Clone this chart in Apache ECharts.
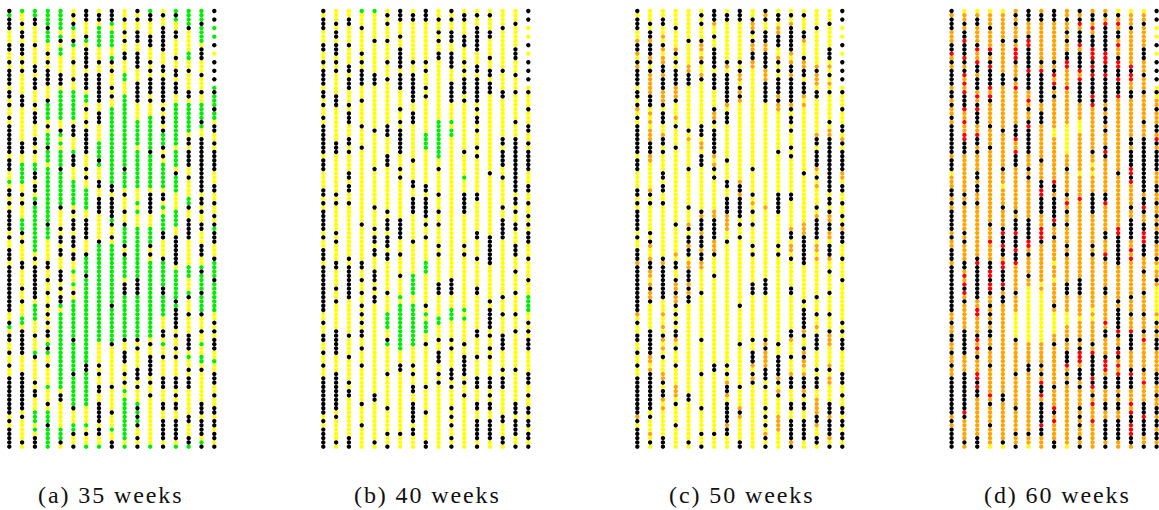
<!DOCTYPE html>
<html><head><meta charset="utf-8">
<style>html,body{margin:0;padding:0;background:#fff}#c{width:1159px;height:510px}svg text{letter-spacing:1.9px}</style>
<script src="https://cdn.jsdelivr.net/npm/echarts@6/dist/echarts.min.js"></script>
</head><body><div id="c"></div>
<script>
const captions = ["(a) 35 weeks","(b) 40 weeks","(c) 50 weeks","(d) 60 weeks"];
const ROWS = 103, COLS = 17;
// Rows with no reading (last column, upper part)
const noReading = {16:"1,3,5,7,9,11,13,15,17"};
// Rows that are black in every panel, per column
const blackRows = [
"0,2,3,4,8,9,12,14-17,19,20,22,25,27-33,35,36,37,42,43,45,47-51,53,56,57,58,60-70,73,76,77,80,83,86-94,96,98-102",
"3,5,6,8,9,10,12,14,20,21,22,31,32,33,43,45,52,54,59,60,65,68,75-80,85-93,95,101",
"2,3,8,13,14,16,17,18,22,24,25,26,30,31,33,38,39,41,42,45,58,60-67,76,81,87,89,90,100,101,102",
"4,10,12,14,15,16,17,21,27,32,50,59,60,63,66,69,71,73,75,76,79,83,92,97",
"7,15,16,17,28,37,46,51,53,54,56,57,61,62,63,65,67,68,90,91,101",
"1,3,7,12,16,27,28,29,34,35,36,47,49,50,51,53,54,55,57,58,66,77,85,93,99,102",
"0,1,2,6,9-13,15-18,23,26,28-33,37,39,49-53,57,62,83,84,99",
"1,2,12,15-21,24,25,26,35,40,41,44-47,54,83,85,88,89,92-96,98,99",
"0,1,2,12,14,18,20,41,42,44-48,50,53,69,78,88,94,101,102",
"2,5,7,10,11,37,43,47,50,55,57,64,65,66,77,80,81,82,85,87",
"0,2,5,6,7,10-13,17-21,63-66,77,79,84,85,86,88,93,95,97,100,102",
"1,2,6,7,8,12,14,16-19,21,33,43-47,55,57,78,81-85,87,90",
"1,4-9,13,14,16-21,23,25,26,28,32,34,43,44,52,53,58,65,66,75,76,81,86,87,88,92,93,96-100,102",
"1,5,6,11,14,15,17,18,19,38,53-59,68,70-74,76,79,81,86,87,88,90,92,93,96-100",
"4,14,19,20,30,31,33-36,39,46,49-53,67,71,76-79,84,86,87,88,95,96,100,101",
"3,9,10,11,15,19,26,30-42,44,45,47,50,51,55,56,57,61,66,71,75,84,92,93,94,96-99,102",
"0,2,8,12,14,16,19,23,27,28,31,33-37,41,42,45,48,50,52,53,54,58,63,73,75,77,78,79,85,86,87,90,93,94,96,97,99,100,102"
];
// Panel (a): green rows per column, others yellow
const greenA = [
"1,40,74",
"0,36-40,49,50,51,72,73",
"0,1,36,37,44,46-56,69-72,80,94-96,98",
"0-3,5-7,22-25,29-31,33-35,37-49,51-53,78,80,88,92,94-96,98-102",
"0-4,6,9,10,19-25,29,31,33-45,69,71-88,98-101",
"4,8,19-25,33,35,36,40-45,61,64,68-84,86-92,97,98",
"7,20,21,42-46,58-61,63-82,85-92,97,102",
"4-8,31-34,36,55-77,102",
"3,5-8,11,23-40,49,55-77,98",
"15,16,20,21,22-41,51-54,58-62,66-77,89,91-100,102",
"26-31,33-41,45,47,51-62,66-77,92,94-96",
"0,25-32,34-41,51-54,59-76,102",
"29-31,36-41,46,48-51,59-71,78",
"0,2,22-31,33-36,39-42,47-50,61-69,102",
"0-3,10,11,22-28,44,45,60-62,66,81,101,102",
"0-7,22-25,27,60-70,78,81,82,101,102",
"4,6,18,20-22,24,25,51,59-62,64-70,82,102"
];
// Panel (b): green rows per column, others yellow
const greenB = [
"","","","0","0","71-74,78","67,69-79","62-66,69-78","29-32,59-61,71,73-75",
"26-34,72,73","26,28,29,70-72","39,70,72","","","","","67-70"
];
// Panel (c): orange rows per column, others yellow
const orangeC = [
"7,10,13,23,59,71,95,96",
"7,11,15-19,22,24,26,28,29,30,34,35,42,54,55,58,59,61,62,64,66,67,81,82,84,99",
"6,9,11,12,15-21,29,59,60,71,74,77,79,85,86,91,93",
"9,18-20,25,57,60,64,65,67,68,77,88-90",
"13,14,30,50,55,59,60,64,66",
"8,9,11,12,15,31,32,48,52,56,59,60",
"3,24,25,34,36,47,48,54,55,56",
"12,13,22,48-51,87,90,97",
"15,16,19,21,40,42,43,93,95",
"3,4,8,9,11-13,45,83,86",
"1,8,9,14,15,16,46,77,78,80-83,99",
"4,5,8,11,12,20,22,23,86,87,89,95-98",
"3,10,12,13,15,22,23,51,55,56,77,85,88,101",
"7,12,13,20,22,50,51,52,75,79,80-83,85,86,89,90",
"13,15,16,17,29,30,37,39,41,48-50,55,56,58,74,76,88,91-94,97",
"13,15,17,28,29,35,38,42,48-50,51-53,58,76,77,78,83,86,87,95,100",
"30,38,39,51"
];
// Panel (d): red and yellow rows per column, others orange
const redD = [
"10",
"7,11,15,17,19,23,26,29,30,62,64,66,94",
"9,12,20,23,29,59,70,71,77,79,85,86,88",
"9,13,18,20,54,61,62,64,65,90",
"52,55,59,60,64",
"9-12,18,30,33,52,56,59",
"7,8,14,21,27,54,55",
"14,42,43,51,52,53,87,90,97",
"15,17,40,49,93,96",
"11,12,13,18,45,83",
"3,8,14,16,44,80,81,82",
"4,9,10,11-13,15,20,22,80,86,88,92,96",
"3,10,11,12,15,33,45,57,73,82,83,84,86",
"3,8,12,13,16,20,51,52,75,80,83,85,90",
"13,15,16,37,38,39,40,56,58,75,85,92,94,97-99",
"46,51-54,77,87,95",
"30"
];
const yellowD = [
"38",
"0",
"0",
"0,102",
"0,41,102",
"71-76",
"65-77,102",
"64,66-68,69-77",
"28,29,59,63,71-75",
"27-33,71-73,102",
"26-28,38,72",
"36,38,70,72",
"",
"0",
"0",
"0",
"4,6,10,18,20,60,65-70,72"
];

function rows(s){
  const out=new Set();
  if(!s) return out;
  s.split(",").forEach(p=>{
    const [a,b]=p.split("-").map(Number);
    for(let i=a;i<=(b===undefined?a:b);i++) out.add(i);
  });
  return out;
}
const COLORS={black:"#000000",yellow:"#ffff00",green:"#00ee00",orange:"#ffa500",red:"#ff0000"};
const panels=[
  {base:"yellow",over:[["green",greenA]]},
  {base:"yellow",over:[["green",greenB]]},
  {base:"yellow",over:[["orange",orangeC]]},
  {base:"orange",over:[["yellow",yellowD],["red",redD]]}
];
const lefts=[9.3,323.3,637.3,951.6];
const grid=[],xAxis=[],yAxis=[],series=[],title=[];
const capLeft=[33,349,664,979];
panels.forEach((p,pi)=>{
  grid.push({left:lefts[pi],width:205,top:11,height:435.7,containLabel:false});
  xAxis.push({gridIndex:pi,type:"value",min:0,max:COLS-1,show:false});
  yAxis.push({gridIndex:pi,type:"value",min:0,max:ROWS-1,inverse:true,show:false});
  const buckets={};
  for(let c=0;c<COLS;c++){
    const black=rows(blackRows[c]),miss=rows(noReading[c]);
    for(let r=0;r<ROWS;r++){
      if(miss.has(r)&&!black.has(r)&&!(p.over.some(o=>rows(o[1][c]).has(r)))) continue;
      let col=p.base;
      p.over.forEach(o=>{if(rows(o[1][c]).has(r)) col=o[0];});
      if(black.has(r)) col="black";
      (buckets[col]=buckets[col]||[]).push([c,r]);
    }
  }
  ["yellow","orange","green","red","black"].forEach(k=>{
    if(!buckets[k]) return;
    series.push({type:"scatter",xAxisIndex:pi,yAxisIndex:pi,symbol:"circle",symbolSize:4.4,
      itemStyle:{color:COLORS[k],opacity:1},silent:true,animation:false,data:buckets[k]});
  });
  title.push({text:captions[pi],left:capLeft[pi],top:478,
    textStyle:{fontFamily:"Liberation Serif",fontWeight:"normal",fontSize:24,color:"#111"}});
});
const chart=echarts.init(document.getElementById("c"),null,{renderer:"svg"});
chart.setOption({animation:false,backgroundColor:"#fff",grid,xAxis,yAxis,series,title,tooltip:{show:false},legend:{show:false}});
</script></body></html>
